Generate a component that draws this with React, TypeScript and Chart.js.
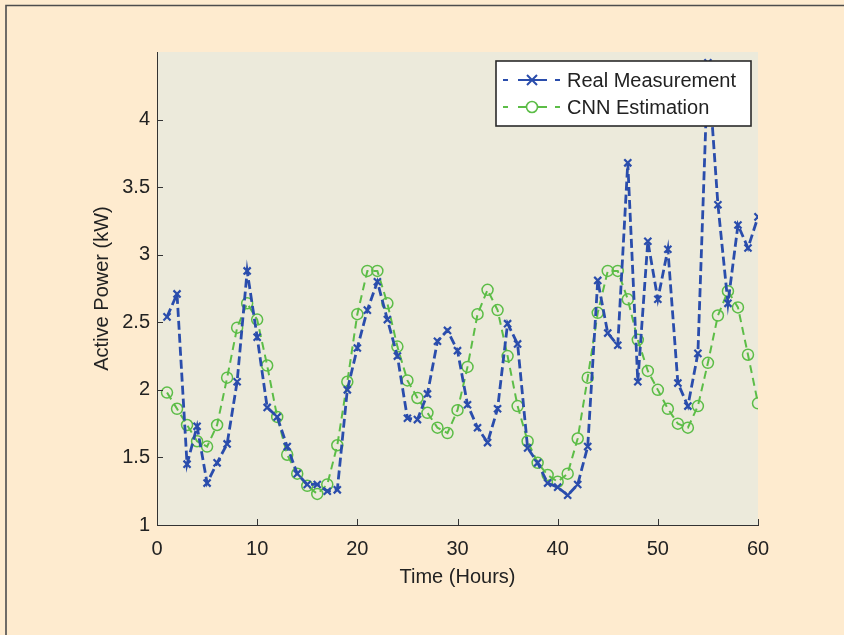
import React, { useEffect, useRef } from 'react';
import { Chart, registerables } from 'chart.js';

Chart.register(...registerables);

const hours = [
  1, 2, 3, 4, 5, 6, 7, 8, 9, 10, 11, 12, 13, 14, 15, 16, 17, 18, 19, 20,
  21, 22, 23, 24, 25, 26, 27, 28, 29, 30, 31, 32, 33, 34, 35, 36, 37, 38, 39, 40,
  41, 42, 43, 44, 45, 46, 47, 48, 49, 50, 51, 52, 53, 54, 55, 56, 57, 58, 59, 60,
];

const realMeasurement = [
  2.54, 2.71, 1.45, 1.73, 1.31, 1.46, 1.6, 2.06, 2.88, 2.39,
  1.87, 1.8, 1.58, 1.38, 1.3, 1.3, 1.25, 1.26, 2.0, 2.31,
  2.59, 2.8, 2.52, 2.25, 1.79, 1.78, 1.97, 2.36, 2.44, 2.29,
  1.89, 1.72, 1.61, 1.86, 2.49, 2.34, 1.57, 1.46, 1.31, 1.28,
  1.22, 1.3, 1.58, 2.81, 2.42, 2.33, 3.68, 2.06, 3.1, 2.67,
  3.04, 2.05, 1.88, 2.27, 4.42, 3.37, 2.64, 3.22, 3.05, 3.28,
];

const cnnEstimation = [
  1.98, 1.86, 1.74, 1.62, 1.58, 1.74, 2.09, 2.46, 2.64, 2.52,
  2.18, 1.8, 1.52, 1.38, 1.29, 1.23, 1.3, 1.59, 2.06, 2.56,
  2.88, 2.88, 2.64, 2.32, 2.07, 1.94, 1.83, 1.72, 1.68, 1.85,
  2.17, 2.56, 2.74, 2.59, 2.25, 1.88, 1.62, 1.46, 1.37, 1.32,
  1.38, 1.64, 2.09, 2.57, 2.88, 2.88, 2.67, 2.37, 2.14, 2.0,
  1.86, 1.75, 1.72, 1.88, 2.2, 2.55, 2.73, 2.61, 2.26, 1.9,
];

const xTicks = [0, 10, 20, 30, 40, 50, 60];
const yTicks = [1, 1.5, 2, 2.5, 3, 3.5, 4];
const seriesLabels = ['Real Measurement', 'CNN Estimation'];

const BLUE = '#2A4DAC';
const GREEN = '#5CBD47';
const FONT = "'Liberation Sans', Arial, Helvetica, sans-serif";
const TEXT = '#222222';

const decorPlugin = {
  id: 'decor',
  beforeDraw(chart: any) {
    const { ctx, chartArea: a, width, height } = chart;
    ctx.save();
    ctx.fillStyle = '#FEEBCF';
    ctx.fillRect(0, 0, width, height);
    ctx.fillStyle = '#ECEADB';
    ctx.fillRect(a.left, a.top, a.right - a.left, a.bottom - a.top);
    ctx.strokeStyle = '#4d4d4d';
    ctx.lineWidth = 1.6;
    ctx.beginPath();
    ctx.moveTo(6, height);
    ctx.lineTo(6, 5.5);
    ctx.lineTo(width, 5.5);
    ctx.stroke();
    ctx.restore();
  },
  afterDraw(chart: any) {
    const { ctx, chartArea: a } = chart;
    const xs = chart.scales.x;
    const ys = chart.scales.y;
    ctx.save();
    ctx.strokeStyle = '#333333';
    ctx.lineWidth = 1;
    ctx.setLineDash([]);
    ctx.beginPath();
    xTicks.forEach((t) => {
      const px = Math.round(xs.getPixelForValue(t)) + 0.5;
      ctx.moveTo(px, a.bottom);
      ctx.lineTo(px, a.bottom - 6);
    });
    yTicks.forEach((t) => {
      const py = Math.round(ys.getPixelForValue(t)) + 0.5;
      ctx.moveTo(a.left, py);
      ctx.lineTo(a.left + 6, py);
    });
    ctx.stroke();

    // legend box
    const bx = 496, by = 61, bw = 255, bh = 65;
    ctx.fillStyle = '#FFFFFF';
    ctx.fillRect(bx, by, bw, bh);
    ctx.strokeStyle = '#2a2a2a';
    ctx.lineWidth = 1.6;
    ctx.strokeRect(bx, by, bw, bh);

    const rows = [80, 107];
    chart.data.datasets.forEach((ds: any, i: number) => {
      const ry = rows[i];
      ctx.strokeStyle = ds.borderColor;
      ctx.lineWidth = 2;
      ctx.setLineDash([]);
      ctx.beginPath();
      ctx.moveTo(503, ry);
      ctx.lineTo(508, ry);
      ctx.moveTo(518, ry);
      ctx.lineTo(547, ry);
      ctx.moveTo(555, ry);
      ctx.lineTo(560, ry);
      ctx.stroke();
      const cx = 532;
      ctx.lineWidth = i === 0 ? 2 : 1.6;
      if (i === 0) {
        const r = 5;
        ctx.beginPath();
        ctx.moveTo(cx - r, ry - r);
        ctx.lineTo(cx + r, ry + r);
        ctx.moveTo(cx + r, ry - r);
        ctx.lineTo(cx - r, ry + r);
        ctx.stroke();
      } else {
        ctx.fillStyle = '#FFFFFF';
        ctx.beginPath();
        ctx.arc(cx, ry, 5.5, 0, Math.PI * 2);
        ctx.fill();
        ctx.stroke();
      }
      ctx.fillStyle = TEXT;
      ctx.font = `20px ${FONT}`;
      ctx.textAlign = 'left';
      ctx.textBaseline = 'middle';
      ctx.fillText(ds.label, 567, ry + 1);
    });
    ctx.restore();
  },
};

export default function App() {
  const ref = useRef<HTMLCanvasElement>(null);

  useEffect(() => {
    document.body.style.margin = '0';
    const canvas = ref.current;
    if (!canvas) return;
    const chart = new Chart(canvas, {
      type: 'line',
      data: {
        labels: hours,
        datasets: [
          {
            label: seriesLabels[0],
            data: hours.map((h, i) => ({ x: h, y: realMeasurement[i] })),
            borderColor: BLUE,
            borderWidth: 2.8,
            borderDash: [9, 4],
            pointStyle: 'crossRot',
            pointRadius: 5,
            pointBorderWidth: 2.2,
            pointBorderColor: BLUE,
            pointBackgroundColor: BLUE,
            tension: 0,
            fill: false,
          },
          {
            label: seriesLabels[1],
            data: hours.map((h, i) => ({ x: h, y: cnnEstimation[i] })),
            borderColor: GREEN,
            borderWidth: 2,
            borderDash: [8, 5],
            pointStyle: 'circle',
            pointRadius: 5.5,
            pointBorderWidth: 1.5,
            pointBorderColor: GREEN,
            pointBackgroundColor: 'rgba(0,0,0,0)',
            tension: 0,
            fill: false,
          },
        ],
      },
      options: {
        animation: false,
        responsive: false,
        devicePixelRatio: 1,
        layout: { padding: { top: 52, right: 86, left: 0, bottom: 0 } },
        plugins: {
          legend: { display: false },
          tooltip: { enabled: false },
        },
        scales: {
          x: {
            type: 'linear',
            min: 0,
            max: 60,
            afterFit: (s: any) => { s.height = 110; },
            afterBuildTicks: (s: any) => { s.ticks = xTicks.map((v) => ({ value: v })); },
            grid: { display: false, drawTicks: false },
            border: { display: true, color: '#333333', width: 1 },
            ticks: {
              padding: 12,
              color: TEXT,
              font: { family: FONT, size: 20 },
              maxRotation: 0,
              callback: (v: any) => String(v),
            },
            title: {
              display: true,
              text: 'Time (Hours)',
              color: TEXT,
              font: { family: FONT, size: 20 },
              padding: { top: 0, bottom: 46 },
            },
          },
          y: {
            type: 'linear',
            min: 1,
            max: 4.5,
            afterFit: (s: any) => { s.width = 157; },
            afterBuildTicks: (s: any) => { s.ticks = yTicks.map((v) => ({ value: v })); },
            grid: { display: false, drawTicks: false },
            border: { display: true, color: '#333333', width: 1 },
            ticks: {
              padding: 7,
              color: TEXT,
              font: { family: FONT, size: 20 },
              callback: (v: any) => String(v),
            },
            title: {
              display: true,
              text: 'Active Power (kW)',
              color: TEXT,
              font: { family: FONT, size: 20 },
              padding: { top: 90, bottom: 0 },
            },
          },
        },
      },
      plugins: [decorPlugin],
    });
    return () => chart.destroy();
  }, []);

  return (
    <div style={{ position: 'absolute', left: 0, top: 0, width: 844, height: 635 }}>
      <canvas ref={ref} width={844} height={635} style={{ display: 'block' }} />
    </div>
  );
}
